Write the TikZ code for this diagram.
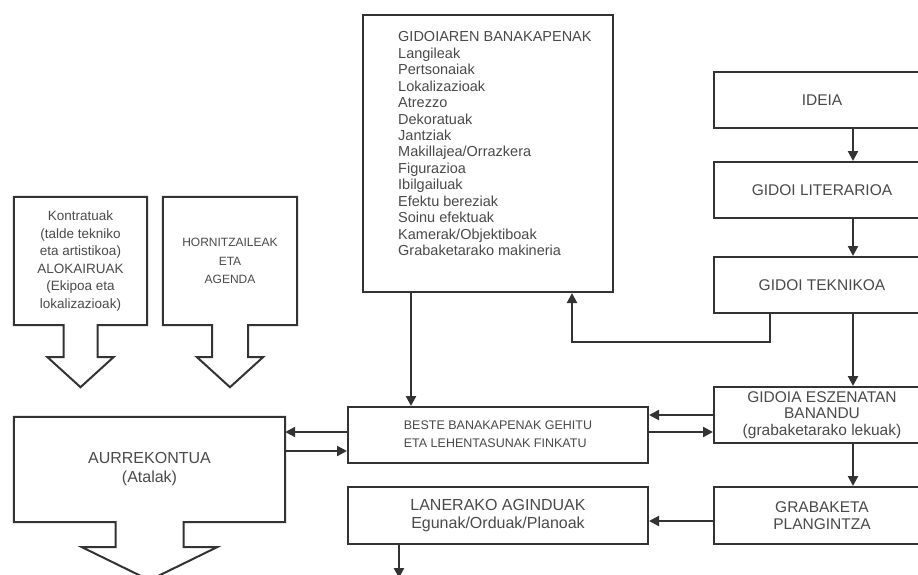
\documentclass[tikz,border=0pt]{standalone}
\usepackage{fontspec}
\setmainfont{Liberation Sans}
\usetikzlibrary{arrows.meta,calc}
\definecolor{ln}{HTML}{333333}
\definecolor{tx}{HTML}{4A4A4A}
\begin{document}
\begin{tikzpicture}[x=1pt,y=-1pt,
  box/.style={draw=ln,line width=2pt,fill=white,inner sep=0pt,text=tx,align=center,
    font=\fontsize{15.5}{17}\selectfont},
  shapebox/.style={inner sep=0pt,text=tx,align=center},
  blockarrow/.style={draw=ln,line width=2pt,fill=white,line join=miter},
  arr/.style={draw=ln,line width=2.2pt,-{Triangle[length=10pt,width=10pt]}},
  plain/.style={draw=ln,line width=2.2pt}]
\useasboundingbox (0,0) rectangle (918,574);
\clip (0,0) rectangle (918,574);

% big list box
\node[box,minimum width=250pt,minimum height=277pt] (gid) at (488,153.5) {};
\node[inner sep=0pt,anchor=north west,align=left,text=tx,
  font=\fontsize{14.5}{16.45}\selectfont] (gidtxt) at (398,31.5)
  {GIDOIAREN BANAKAPENAK\\Langileak\\Pertsonaiak\\Lokalizazioak\\Atrezzo\\Dekoratuak\\Jantziak\\Makillajea/Orrazkera\\Figurazioa\\Ibilgailuak\\Efektu bereziak\\Soinu efektuak\\Kamerak/Objektiboak\\Grabaketarako makineria};

% right column
\node[box,minimum width=216pt,minimum height=56pt] (ideia) at (822,100) {IDEIA};
\node[box,minimum width=216pt,minimum height=56pt] (lit) at (822,190) {GIDOI LITERARIOA};
\node[box,minimum width=216pt,minimum height=56pt] (tek) at (822,285) {GIDOI TEKNIKOA};
\node[box,minimum width=216pt,minimum height=56pt,font=\fontsize{15.5}{16.5}\selectfont] (esz) at (822,415)
  {GIDOIA ESZENATAN\\BANANDU\\(grabaketarako lekuak)};
\node[box,minimum width=216pt,minimum height=57pt] (grab) at (822,515.5) {GRABAKETA\\PLANGINTZA};

% middle boxes
\node[box,minimum width=300pt,minimum height=56pt,font=\fontsize{12.5}{18}\selectfont] (beste) at (498,435)
  {\begin{tabular}{@{}l@{}}BESTE BANAKAPENAK GEHITU\\ETA LEHENTASUNAK FINKATU\end{tabular}};
\node[box,minimum width=300pt,minimum height=57pt,font=\fontsize{16}{18.5}\selectfont] (lan) at (498,515.5)
  {LANERAKO AGINDUAK\\Egunak/Orduak/Planoak};

% block-arrow boxes (text nodes, outlines drawn below)
\node[shapebox,minimum width=133pt,minimum height=128pt] (kon) at (80.5,261) {};
\node[shapebox,minimum width=134pt,minimum height=128pt] (hor) at (230,261) {};
\node[shapebox,minimum width=271pt,minimum height=105pt] (aur) at (149.5,469.5) {};

\draw[blockarrow] (kon.north west) -- (kon.north east) -- (kon.south east)
  -- ($(kon.south)+(17,0)$) -- ($(kon.south)+(17,32)$) -- ($(kon.south)+(33,32)$)
  -- ($(kon.south)+(0,62)$) -- ($(kon.south)+(-33,32)$) -- ($(kon.south)+(-17,32)$)
  -- ($(kon.south)+(-17,0)$) -- (kon.south west) -- cycle;
\draw[blockarrow] (hor.north west) -- (hor.north east) -- (hor.south east)
  -- ($(hor.south)+(18,0)$) -- ($(hor.south)+(18,32)$) -- ($(hor.south)+(33,32)$)
  -- ($(hor.south)+(0,62)$) -- ($(hor.south)+(-33,32)$) -- ($(hor.south)+(-18,32)$)
  -- ($(hor.south)+(-18,0)$) -- (hor.south west) -- cycle;
\draw[blockarrow] (aur.north west) -- (aur.north east) -- (aur.south east)
  -- ($(aur.south)+(34,0)$) -- ($(aur.south)+(34,25)$) -- ($(aur.south)+(67.5,25)$)
  -- ($(aur.south)+(0,58)$) -- ($(aur.south)+(-67.5,25)$) -- ($(aur.south)+(-34,25)$)
  -- ($(aur.south)+(-34,0)$) -- (aur.south west) -- cycle;

\node[shapebox,font=\fontsize{13.5}{17.6}\selectfont] (kontxt) at (kon.center)
  {Kontratuak\\(talde tekniko\\eta artistikoa)\\ALOKAIRUAK\\(Ekipoa eta\\lokalizazioak)};
\node[shapebox,font=\fontsize{12}{18.5}\selectfont] (hortxt) at (hor.center)
  {HORNITZAILEAK\\ETA\\AGENDA};
\node[shapebox,font=\fontsize{16}{19}\selectfont] (aurtxt) at (aur.center)
  {AURREKONTUA\\(Atalak)};

% helper coordinates
\coordinate (cx) at (853,0);
\coordinate (fa) at (770,342);
\coordinate (fb) at (572,342);
\coordinate (gx) at (411,0);
\coordinate (ya) at (0,415);
\coordinate (yb) at (0,432);
\coordinate (yc) at (0,451);
\coordinate (yd) at (0,521);
\coordinate (ldn) at (399,578);

% connectors
\draw[arr] (ideia.south -| cx) -- (lit.north -| cx);
\draw[arr] (lit.south -| cx) -- (tek.north -| cx);
\draw[arr] (tek.south -| cx) -- (esz.north -| cx);
\draw[arr] (esz.south -| cx) -- (grab.north -| cx);
\draw[arr] (tek.south -| fa) -- (fa) -- (fb) -- (gid.south -| fb);
\draw[arr] (gid.south -| gx) -- (beste.north -| gx);
\draw[arr] (esz.west |- ya) -- (beste.east |- ya);
\draw[arr] (beste.east |- yb) -- (esz.west |- yb);
\draw[arr] (beste.west |- yb) -- (aur.east |- yb);
\draw[arr] (aur.east |- yc) -- (beste.west |- yc);
\draw[arr] (grab.west |- yd) -- (lan.east |- yd);
\draw[arr] (lan.south -| ldn) -- (ldn);
\end{tikzpicture}
\end{document}
